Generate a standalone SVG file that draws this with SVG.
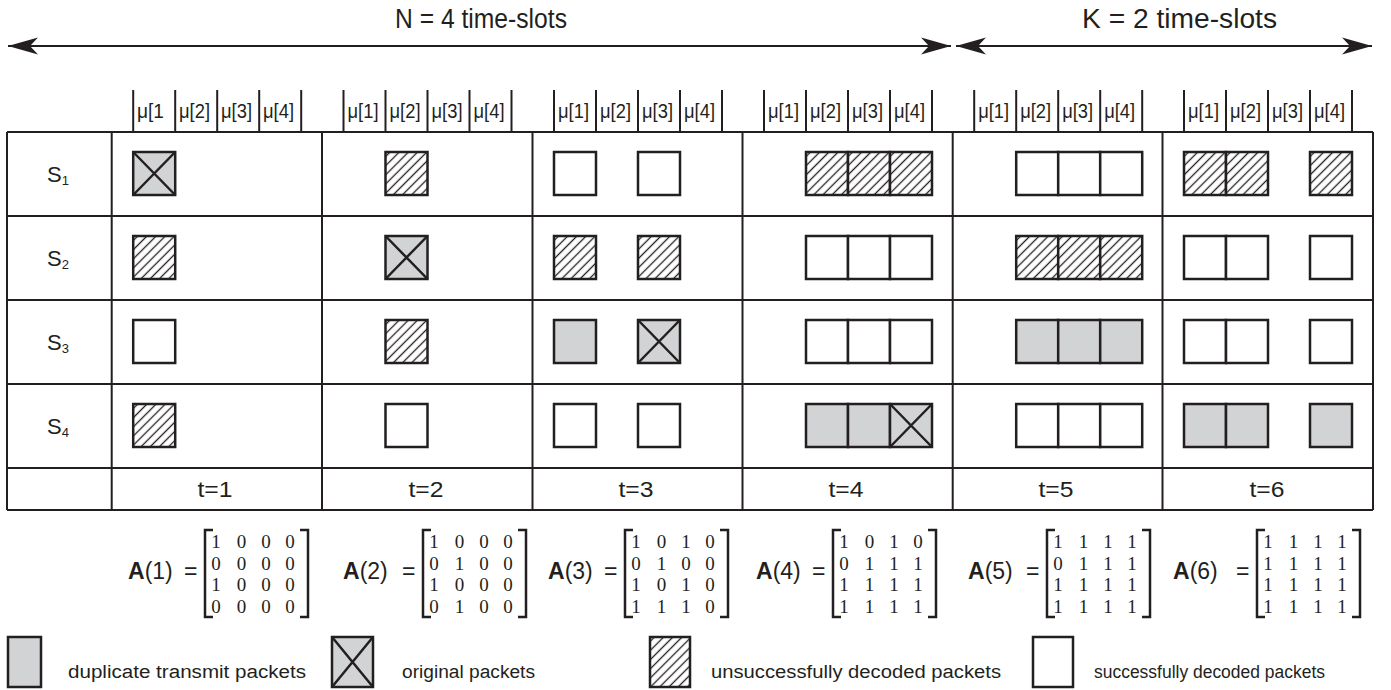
<svg xmlns="http://www.w3.org/2000/svg" xmlns:xlink="http://www.w3.org/1999/xlink" width="1391" height="690" viewBox="0 0 1391 690">
<style>
text{font-family:"Liberation Sans",Arial,sans-serif;fill:#231f20}
.ln{stroke:#231f20;stroke-width:2;fill:none}
.bx{stroke:#231f20;stroke-width:2.5}
.mu{font-size:21px}
.ti{font-size:27px}
.tl{font-size:22px;text-anchor:middle}
.sl{font-size:22px}
.sb{font-size:13px}
.md{font-family:"Liberation Serif",serif;font-size:19px;text-anchor:middle}
.ml{font-size:23px}
.lg{font-size:18px}
</style>
<defs>
<pattern id="hatch" patternUnits="userSpaceOnUse" width="6.5" height="6.5" patternTransform="rotate(45)">
<rect width="6.5" height="6.5" fill="#fff"/>
<line x1="3.25" y1="0" x2="3.25" y2="6.5" stroke="#231f20" stroke-width="1.3"/>
</pattern>
<g id="bw"><rect class="bx" width="42" height="43" fill="#fff"/></g>
<g id="bh"><rect class="bx" width="42" height="43" fill="url(#hatch)"/></g>
<g id="bg"><rect class="bx" width="42" height="43" fill="#d1d3d4"/></g>
<g id="bxx"><rect class="bx" width="42" height="43" fill="#d1d3d4"/><path class="bx" d="M0,0L42,43M42,0L0,43" fill="none"/></g>
<marker id="ah" markerUnits="userSpaceOnUse" markerWidth="32" markerHeight="20" viewBox="0 0 32 20" refX="30" refY="10" orient="auto-start-reverse">
<path d="M30,10 L0,1.5 L8,10 L0,18.5 Z" fill="#231f20"/>
</marker>
</defs>
<rect width="1391" height="690" fill="#fff"/>

<g id="connectors">
<line class="ln" x1="8" y1="46" x2="951" y2="46" marker-start="url(#ah)" marker-end="url(#ah)"/>
<line class="ln" x1="956" y1="46" x2="1372" y2="46" marker-start="url(#ah)" marker-end="url(#ah)"/>
</g>

<g id="titles">
<text class="ti" x="395" y="28" textLength="172" lengthAdjust="spacingAndGlyphs">N = 4 time-slots</text>
<text class="ti" x="1082" y="28" textLength="195" lengthAdjust="spacingAndGlyphs">K = 2 time-slots</text>
</g>

<g id="headers">
<path class="ln" d="M133.2,90V132M175.2,90V132M217.2,90V132M259.2,90V132M301.2,90V132
M343.5,90V132M385.5,90V132M427.5,90V132M469.5,90V132M511.5,90V132
M554,90V132M596,90V132M638,90V132M680,90V132M722,90V132
M764,90V132M806,90V132M848,90V132M890,90V132M932,90V132
M974.2,90V132M1016.2,90V132M1058.2,90V132M1100.2,90V132M1142.2,90V132
M1184,90V132M1226,90V132M1268,90V132M1310,90V132M1352,90V132"/>
<g class="mu">
<text x="137" y="118" textLength="27" lengthAdjust="spacingAndGlyphs">μ[1</text>
<text x="179" y="118" textLength="31" lengthAdjust="spacingAndGlyphs">μ[2]</text>
<text x="221" y="118" textLength="31" lengthAdjust="spacingAndGlyphs">μ[3]</text>
<text x="263" y="118" textLength="31" lengthAdjust="spacingAndGlyphs">μ[4]</text>
<text x="347.5" y="118" textLength="31" lengthAdjust="spacingAndGlyphs">μ[1]</text>
<text x="389.5" y="118" textLength="31" lengthAdjust="spacingAndGlyphs">μ[2]</text>
<text x="431.5" y="118" textLength="31" lengthAdjust="spacingAndGlyphs">μ[3]</text>
<text x="473.5" y="118" textLength="31" lengthAdjust="spacingAndGlyphs">μ[4]</text>
<text x="558" y="118" textLength="31" lengthAdjust="spacingAndGlyphs">μ[1]</text>
<text x="600" y="118" textLength="31" lengthAdjust="spacingAndGlyphs">μ[2]</text>
<text x="642" y="118" textLength="31" lengthAdjust="spacingAndGlyphs">μ[3]</text>
<text x="684" y="118" textLength="31" lengthAdjust="spacingAndGlyphs">μ[4]</text>
<text x="768" y="118" textLength="31" lengthAdjust="spacingAndGlyphs">μ[1]</text>
<text x="810" y="118" textLength="31" lengthAdjust="spacingAndGlyphs">μ[2]</text>
<text x="852" y="118" textLength="31" lengthAdjust="spacingAndGlyphs">μ[3]</text>
<text x="894" y="118" textLength="31" lengthAdjust="spacingAndGlyphs">μ[4]</text>
<text x="978.2" y="118" textLength="31" lengthAdjust="spacingAndGlyphs">μ[1]</text>
<text x="1020.2" y="118" textLength="31" lengthAdjust="spacingAndGlyphs">μ[2]</text>
<text x="1062.2" y="118" textLength="31" lengthAdjust="spacingAndGlyphs">μ[3]</text>
<text x="1104.2" y="118" textLength="31" lengthAdjust="spacingAndGlyphs">μ[4]</text>
<text x="1188" y="118" textLength="31" lengthAdjust="spacingAndGlyphs">μ[1]</text>
<text x="1230" y="118" textLength="31" lengthAdjust="spacingAndGlyphs">μ[2]</text>
<text x="1272" y="118" textLength="31" lengthAdjust="spacingAndGlyphs">μ[3]</text>
<text x="1314" y="118" textLength="31" lengthAdjust="spacingAndGlyphs">μ[4]</text>
</g>
</g>

<g id="table">
<path class="ln" d="M7,132H1373M7,216H1373M7,300H1373M7,384H1373M7,468H1373M7,510H1373
M7,132V510M111.7,132V510M322,132V510M532.5,132V510M742.5,132V510M952.7,132V510M1162.5,132V510M1373,132V510"/>
</g>

<g id="row-s1">
<text class="sl" x="47" y="182">S<tspan class="sb" dy="3">1</tspan></text>
<use href="#bxx" x="133.2" y="152"/>
<use href="#bh" x="385.5" y="152"/>
<use href="#bw" x="554" y="152"/><use href="#bw" x="638" y="152"/>
<use href="#bh" x="806" y="152"/><use href="#bh" x="848" y="152"/><use href="#bh" x="890" y="152"/>
<use href="#bw" x="1016.2" y="152"/><use href="#bw" x="1058.2" y="152"/><use href="#bw" x="1100.2" y="152"/>
<use href="#bh" x="1184" y="152"/><use href="#bh" x="1226" y="152"/><use href="#bh" x="1310" y="152"/>
</g>

<g id="row-s2">
<text class="sl" x="47" y="266">S<tspan class="sb" dy="3">2</tspan></text>
<use href="#bh" x="133.2" y="236"/>
<use href="#bxx" x="385.5" y="236"/>
<use href="#bh" x="554" y="236"/><use href="#bh" x="638" y="236"/>
<use href="#bw" x="806" y="236"/><use href="#bw" x="848" y="236"/><use href="#bw" x="890" y="236"/>
<use href="#bh" x="1016.2" y="236"/><use href="#bh" x="1058.2" y="236"/><use href="#bh" x="1100.2" y="236"/>
<use href="#bw" x="1184" y="236"/><use href="#bw" x="1226" y="236"/><use href="#bw" x="1310" y="236"/>
</g>

<g id="row-s3">
<text class="sl" x="47" y="350">S<tspan class="sb" dy="3">3</tspan></text>
<use href="#bw" x="133.2" y="320"/>
<use href="#bh" x="385.5" y="320"/>
<use href="#bg" x="554" y="320"/><use href="#bxx" x="638" y="320"/>
<use href="#bw" x="806" y="320"/><use href="#bw" x="848" y="320"/><use href="#bw" x="890" y="320"/>
<use href="#bg" x="1016.2" y="320"/><use href="#bg" x="1058.2" y="320"/><use href="#bg" x="1100.2" y="320"/>
<use href="#bw" x="1184" y="320"/><use href="#bw" x="1226" y="320"/><use href="#bw" x="1310" y="320"/>
</g>

<g id="row-s4">
<text class="sl" x="47" y="434">S<tspan class="sb" dy="3">4</tspan></text>
<use href="#bh" x="133.2" y="404"/>
<use href="#bw" x="385.5" y="404"/>
<use href="#bw" x="554" y="404"/><use href="#bw" x="638" y="404"/>
<use href="#bg" x="806" y="404"/><use href="#bg" x="848" y="404"/><use href="#bxx" x="890" y="404"/>
<use href="#bw" x="1016.2" y="404"/><use href="#bw" x="1058.2" y="404"/><use href="#bw" x="1100.2" y="404"/>
<use href="#bg" x="1184" y="404"/><use href="#bg" x="1226" y="404"/><use href="#bg" x="1310" y="404"/>
</g>

<g id="time-labels">
<text class="tl" x="215" y="497" textLength="35" lengthAdjust="spacingAndGlyphs">t=1</text>
<text class="tl" x="426" y="497" textLength="35" lengthAdjust="spacingAndGlyphs">t=2</text>
<text class="tl" x="636" y="497" textLength="35" lengthAdjust="spacingAndGlyphs">t=3</text>
<text class="tl" x="846" y="497" textLength="35" lengthAdjust="spacingAndGlyphs">t=4</text>
<text class="tl" x="1056" y="497" textLength="35" lengthAdjust="spacingAndGlyphs">t=5</text>
<text class="tl" x="1267" y="497" textLength="35" lengthAdjust="spacingAndGlyphs">t=6</text>
</g>

<g id="matrix-1" transform="translate(205,0)">
<text class="ml" x="-77" y="579"><tspan font-weight="bold">A</tspan>(1)</text><text class="ml" x="-21" y="579">=</text>
<path class="bx" fill="none" d="M8,530H0V617H8M95,530H103V617H95"/>
<text class="md" y="548"><tspan x="11">1</tspan><tspan x="36.5">0</tspan><tspan x="61">0</tspan><tspan x="85">0</tspan></text>
<text class="md" y="569.5"><tspan x="11">0</tspan><tspan x="36.5">0</tspan><tspan x="61">0</tspan><tspan x="85">0</tspan></text>
<text class="md" y="591"><tspan x="11">1</tspan><tspan x="36.5">0</tspan><tspan x="61">0</tspan><tspan x="85">0</tspan></text>
<text class="md" y="612.5"><tspan x="11">0</tspan><tspan x="36.5">0</tspan><tspan x="61">0</tspan><tspan x="85">0</tspan></text>
</g>
<g id="matrix-2" transform="translate(423,0)">
<text class="ml" x="-80" y="579"><tspan font-weight="bold">A</tspan>(2)</text><text class="ml" x="-21" y="579">=</text>
<path class="bx" fill="none" d="M8,530H0V617H8M95,530H103V617H95"/>
<text class="md" y="548"><tspan x="11">1</tspan><tspan x="36.5">0</tspan><tspan x="61">0</tspan><tspan x="85">0</tspan></text>
<text class="md" y="569.5"><tspan x="11">0</tspan><tspan x="36.5">1</tspan><tspan x="61">0</tspan><tspan x="85">0</tspan></text>
<text class="md" y="591"><tspan x="11">1</tspan><tspan x="36.5">0</tspan><tspan x="61">0</tspan><tspan x="85">0</tspan></text>
<text class="md" y="612.5"><tspan x="11">0</tspan><tspan x="36.5">1</tspan><tspan x="61">0</tspan><tspan x="85">0</tspan></text>
</g>
<g id="matrix-3" transform="translate(625,0)">
<text class="ml" x="-77" y="579"><tspan font-weight="bold">A</tspan>(3)</text><text class="ml" x="-21" y="579">=</text>
<path class="bx" fill="none" d="M8,530H0V617H8M95,530H103V617H95"/>
<text class="md" y="548"><tspan x="11">1</tspan><tspan x="36.5">0</tspan><tspan x="61">1</tspan><tspan x="85">0</tspan></text>
<text class="md" y="569.5"><tspan x="11">0</tspan><tspan x="36.5">1</tspan><tspan x="61">0</tspan><tspan x="85">0</tspan></text>
<text class="md" y="591"><tspan x="11">1</tspan><tspan x="36.5">0</tspan><tspan x="61">1</tspan><tspan x="85">0</tspan></text>
<text class="md" y="612.5"><tspan x="11">1</tspan><tspan x="36.5">1</tspan><tspan x="61">1</tspan><tspan x="85">0</tspan></text>
</g>
<g id="matrix-4" transform="translate(833,0)">
<text class="ml" x="-77" y="579"><tspan font-weight="bold">A</tspan>(4)</text><text class="ml" x="-21" y="579">=</text>
<path class="bx" fill="none" d="M8,530H0V617H8M95,530H103V617H95"/>
<text class="md" y="548"><tspan x="11">1</tspan><tspan x="36.5">0</tspan><tspan x="61">1</tspan><tspan x="85">0</tspan></text>
<text class="md" y="569.5"><tspan x="11">0</tspan><tspan x="36.5">1</tspan><tspan x="61">1</tspan><tspan x="85">1</tspan></text>
<text class="md" y="591"><tspan x="11">1</tspan><tspan x="36.5">1</tspan><tspan x="61">1</tspan><tspan x="85">1</tspan></text>
<text class="md" y="612.5"><tspan x="11">1</tspan><tspan x="36.5">1</tspan><tspan x="61">1</tspan><tspan x="85">1</tspan></text>
</g>
<g id="matrix-5" transform="translate(1047,0)">
<text class="ml" x="-79" y="579"><tspan font-weight="bold">A</tspan>(5)</text><text class="ml" x="-21" y="579">=</text>
<path class="bx" fill="none" d="M8,530H0V617H8M95,530H103V617H95"/>
<text class="md" y="548"><tspan x="11">1</tspan><tspan x="36.5">1</tspan><tspan x="61">1</tspan><tspan x="85">1</tspan></text>
<text class="md" y="569.5"><tspan x="11">0</tspan><tspan x="36.5">1</tspan><tspan x="61">1</tspan><tspan x="85">1</tspan></text>
<text class="md" y="591"><tspan x="11">1</tspan><tspan x="36.5">1</tspan><tspan x="61">1</tspan><tspan x="85">1</tspan></text>
<text class="md" y="612.5"><tspan x="11">1</tspan><tspan x="36.5">1</tspan><tspan x="61">1</tspan><tspan x="85">1</tspan></text>
</g>
<g id="matrix-6" transform="translate(1257,0)">
<text class="ml" x="-84" y="579"><tspan font-weight="bold">A</tspan>(6)</text><text class="ml" x="-21" y="579">=</text>
<path class="bx" fill="none" d="M8,530H0V617H8M95,530H103V617H95"/>
<text class="md" y="548"><tspan x="11">1</tspan><tspan x="36.5">1</tspan><tspan x="61">1</tspan><tspan x="85">1</tspan></text>
<text class="md" y="569.5"><tspan x="11">1</tspan><tspan x="36.5">1</tspan><tspan x="61">1</tspan><tspan x="85">1</tspan></text>
<text class="md" y="591"><tspan x="11">1</tspan><tspan x="36.5">1</tspan><tspan x="61">1</tspan><tspan x="85">1</tspan></text>
<text class="md" y="612.5"><tspan x="11">1</tspan><tspan x="36.5">1</tspan><tspan x="61">1</tspan><tspan x="85">1</tspan></text>
</g>

<g id="legend">
<rect class="bx" x="8" y="637" width="33" height="50" fill="#d1d3d4"/>
<text class="lg" x="68" y="678" textLength="238" lengthAdjust="spacingAndGlyphs">duplicate transmit packets</text>
<rect class="bx" x="332" y="637" width="41" height="50" fill="#d1d3d4"/>
<path class="bx" fill="none" d="M332,637L373,687M373,637L332,687"/>
<text class="lg" x="402" y="678" textLength="133" lengthAdjust="spacingAndGlyphs">original packets</text>
<rect class="bx" x="650" y="637" width="40" height="50" fill="url(#hatch)"/>
<text class="lg" x="711" y="678" textLength="290" lengthAdjust="spacingAndGlyphs">unsuccessfully decoded packets</text>
<rect class="bx" x="1033" y="637" width="40" height="50" fill="#fff"/>
<text class="lg" x="1094" y="678" textLength="231" lengthAdjust="spacingAndGlyphs">successfully decoded packets</text>
</g>
</svg>
